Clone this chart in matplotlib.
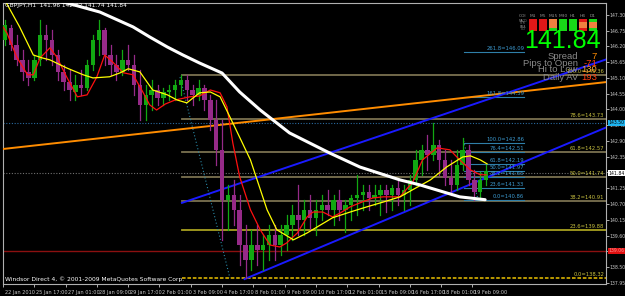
import matplotlib
matplotlib.use("Agg")
import matplotlib.pyplot as plt
from matplotlib.patches import Rectangle
import matplotlib.transforms as mtrans

plt.rcParams["font.family"] = ["Liberation Sans Narrow", "DejaVu Sans"]

# ---------------- data ----------------
# composite candles (6 H1 bars each)
c_open = [146.42,146.84,146.25,145.73,145.31,145.10,145.73,146.60,146.42,145.90,
          145.31,144.96,144.61,144.85,144.75,145.55,146.42,146.77,145.90,145.55,
          145.31,145.73,145.55,144.85,144.16,144.50,144.68,144.40,144.61,144.68,
          144.85,145.03,144.68,144.50,144.75,144.33,143.63,142.59,140.84,141.01,
          140.49,139.27,138.75,139.27,139.10,139.27,139.62,139.27,139.62,139.97,
          140.32,140.14,140.49,140.21,140.49,140.67,140.49,140.84,140.49,140.67,
          140.91,141.01,141.12,140.91,141.01,141.19,141.01,141.26,141.01,141.19,
          141.54,142.24,142.59,142.41,142.76,142.24,141.61,141.36,142.06,142.59,
          141.54,141.12,141.54]
c_high = [147.12,146.95,146.60,146.08,145.73,145.90,147.12,146.95,146.77,146.08,
          145.55,145.38,145.20,145.38,145.73,146.60,147.12,146.84,146.25,145.90,
          146.08,146.25,145.90,145.38,144.85,145.03,144.85,144.75,144.85,145.03,
          145.20,145.20,144.85,145.03,144.85,144.50,144.33,143.63,141.36,141.54,
          141.01,139.97,139.79,139.97,139.62,139.97,139.97,139.97,140.32,140.67,
          141.36,140.84,141.01,140.84,141.01,141.19,141.01,141.19,140.84,141.01,
          141.71,141.36,141.36,141.36,141.36,141.36,141.36,141.54,141.36,141.71,
          142.59,142.76,143.11,143.53,142.93,142.59,142.24,142.59,143.00,142.76,
          141.89,141.82,142.06]
c_low = [146.25,146.08,145.55,145.03,144.85,145.03,145.55,145.73,145.55,145.03,
         144.68,144.33,144.33,144.50,144.68,145.38,145.90,145.55,145.20,145.03,
         145.20,145.38,144.50,143.63,143.63,143.98,144.16,144.16,144.33,144.33,
         144.50,144.33,144.16,144.33,143.98,143.28,142.06,139.44,139.79,139.97,
         138.57,138.12,138.40,138.57,138.40,138.75,138.75,138.92,139.10,139.44,
         139.62,139.62,139.79,139.62,140.14,140.32,139.97,140.14,139.72,140.14,
         140.32,140.49,140.49,140.67,140.32,140.42,140.49,140.67,140.49,140.67,
         141.36,141.71,141.89,142.24,141.71,141.36,141.01,141.19,141.89,141.36,
         140.84,140.94,141.36]
c_close = [146.95,146.25,145.73,145.31,145.10,145.73,146.60,146.42,145.90,145.31,
           144.96,144.68,144.85,144.75,145.55,146.42,146.77,145.90,145.55,145.31,
           145.73,145.55,144.85,144.16,144.50,144.68,144.40,144.61,144.68,144.85,
           145.03,144.68,144.50,144.75,144.33,143.63,142.59,140.84,141.01,140.49,
           139.27,138.75,139.27,139.10,139.27,139.62,139.27,139.62,139.97,140.32,
           140.14,140.49,140.21,140.49,140.67,140.49,140.84,140.49,140.67,140.91,
           141.01,141.12,140.91,141.01,141.19,141.01,141.26,141.01,141.19,141.54,
           142.24,142.59,142.41,142.76,142.24,141.61,141.36,142.06,142.59,141.54,
           141.12,141.54,141.84]

# moving averages: (bar index, price)
ma_white_x = [28, 45, 65, 99, 133, 150, 168, 184, 201, 224, 242, 263, 293, 334, 365, 406, 426, 467, 493]
ma_white_y = [148.17, 147.82, 147.72, 147.40, 146.88, 146.53, 146.18, 145.90, 145.62, 145.27,
              144.61, 143.98, 143.18, 142.48, 141.99, 141.54, 141.37, 140.95, 140.85]
ma_yellow_x = [0, 17, 31, 40, 48, 65, 82, 92, 109, 120, 128, 140, 153, 168, 178, 188, 201, 212,
               222, 235, 253, 270, 280, 297, 311, 337, 355, 372, 389, 406, 419, 437, 454, 470, 478, 488, 495]
ma_yellow_y = [147.93, 146.88, 145.90, 145.80, 145.73, 145.45, 145.21, 145.10, 145.14, 145.28,
               145.42, 145.31, 144.68, 144.51, 144.33, 144.23, 144.58, 144.61, 144.44, 143.53,
               142.24, 140.50, 139.80, 139.45, 139.69, 140.22, 140.42, 140.60, 140.77, 140.95,
               141.20, 141.54, 142.00, 142.34, 142.38, 142.24, 142.10]
ma_red_x = [0, 4, 14, 25, 31, 38, 48, 55, 65, 76, 86, 96, 104, 112, 123, 133, 143, 150, 157, 166,
            176, 191, 201, 212, 222, 229, 235, 242, 253, 263, 273, 283, 290, 301, 311, 317, 327,
            337, 345, 355, 365, 378, 389, 406, 419, 429, 444, 457, 467, 478, 488, 494]
ma_red_y = [146.88, 146.67, 145.83, 145.21, 145.21, 145.80, 146.15, 145.83, 145.14, 144.44,
            144.51, 145.14, 145.90, 145.66, 145.28, 145.21, 144.61, 144.16, 143.98, 144.19,
            144.33, 144.44, 144.47, 144.68, 144.58, 144.09, 142.83, 141.65, 140.50, 139.80,
            139.27, 139.20, 139.34, 139.69, 140.25, 140.42, 140.42, 140.25, 140.39, 140.60,
            140.74, 140.91, 140.95, 140.95, 141.47, 142.24, 142.66, 142.59, 142.24, 141.89,
            141.72, 141.72]

# trend lines: ((bar0, price0), (bar1, price1))
orange_line = ((0, 142.62), (618, 144.96))
blue_upper = ((183, 140.74), (618, 145.76))
blue_lower = ((247, 138.08), (618, 143.39))
fib_diag = ((181, 145.13), (232, 138.12))
small_fib_diag = ((471, 142.90), (486, 140.82))

# big Fibonacci levels (price of drawn line, label)
big_fib_prices = [145.20, 143.67, 142.52, 141.64, 140.81, 139.79, 138.12]
big_fib_labels = ["100.0=145.36", "78.6=143.73", "61.8=142.57", "50.0=141.74",
                  "38.2=140.91", "23.6=139.88", "0.0=138.32"]
big_fib_start = 183

small_fib_prices = [146.02, 144.44, 142.83, 142.52, 142.10, 141.86, 141.64, 141.26, 140.84]
small_fib_labels = ["261.8=146.09", "161.8=144.59", "100.0=142.86", "76.4=142.51", "61.8=142.19",
                    "50.0=141.97", "38.2=141.65", "23.6=141.33", "0.0=140.86"]
small_fib_start = 471
small_fib_end = 533

bid_price = 141.78
blue_dot_price = 143.53
red_line_price = 139.06

y_ticks = [147.30, 146.75, 146.20, 145.65, 145.10, 144.55, 144.00, 143.45, 142.90,
           142.35, 141.80, 141.25, 140.70, 140.15, 139.60, 139.05, 138.50, 137.95]
x_tick_bars = [0, 32, 64, 96, 128, 160, 192, 224, 256, 288, 320, 352, 384, 416, 448, 480]
x_tick_labels = ["22 Jan 2010", "25 Jan 17:00", "27 Jan 01:00", "28 Jan 09:00", "29 Jan 17:00",
                 "2 Feb 01:00", "3 Feb 09:00", "4 Feb 17:00", "8 Feb 01:00", "9 Feb 09:00",
                 "10 Feb 17:00", "12 Feb 01:00", "15 Feb 09:00", "16 Feb 17:00", "18 Feb 01:00",
                 "19 Feb 09:00"]

panel_cols = ["M1", "M5", "M15", "M30", "H1", "H4", "D1"]
panel_rows = ["MACD", "STR", "EMA", "CCI"]
panel_state = [["r", "r", "o", "g", "g", "r", "g"],
               ["r", "r", "o", "g", "g", "o", "o"],
               ["r", "r", "o", "g", "g", "o", "o"],
               ["r", "r", "g", "g", "g", "r", "g"]]
info_labels = ["Spread", "Pips to Open", "Hi to Low", "Daily AV"]
info_values = ["7", "-71", "130", "193"]

# ---------------- figure ----------------
W, H = 625, 296
fig = plt.figure(figsize=(W / 100, H / 100), dpi=100, facecolor="black")
ax = fig.add_axes([3 / W, 12 / H, 603 / W, 281 / H], facecolor="black")
ax.set_xlim(0, 616.6)
ax.set_ylim(137.908, 147.715)


def fpx(x, y):
    return x / W, 1 - y / H


# horizontal full-width lines
ax.axhline(red_line_price, color="#8b1010", lw=1.0, zorder=1)
ax.axhline(blue_dot_price, color="#2a6aa0", lw=0.8, ls=(0, (1, 1.5)), zorder=1)
ax.axhline(bid_price, color="#707070", lw=0.8, ls=(0, (1, 1.5)), zorder=1)

# big fib lines
bf_colors = ["#7a7250", "#7a7250", "#7a7250", "#7a7250", "#7a7250", "#a8a020", "#c8a400"]
bf_styles = ["-", "-", "-", "-", "-", "-", (0, (2, 1))]
for p, lab, c, s in zip(big_fib_prices, big_fib_labels, bf_colors, bf_styles):
    ax.plot([big_fib_start, 616.6], [p, p], color=c, lw=1.3, ls=s, zorder=1)
    ax.text(615, p + 0.04, lab, color="#c8c040", fontsize=3.8, ha="right", va="bottom", zorder=6)

# small fib lines
for p, lab in zip(small_fib_prices, small_fib_labels):
    ax.plot([small_fib_start, small_fib_end], [p, p], color="#2f7fa8", lw=0.8, zorder=2)
    ax.text(small_fib_end, p + 0.03, lab, color="#3c9ad0", fontsize=3.8, ha="right", va="bottom", zorder=6)

# trend lines
for (a, b), c, lw, ls in [(orange_line, "#ff8c00", 1.4, "-"), (blue_upper, "#1a1aff", 1.4, "-"),
                          (blue_lower, "#1a1aff", 1.4, "-"), (fib_diag, "#2a8aa8", 0.8, (0, (1, 2))),
                          (small_fib_diag, "#2a8aa8", 0.8, (0, (1, 2)))]:
    ax.plot([a[0], b[0]], [a[1], b[1]], color=c, lw=lw, ls=ls, zorder=3)

# candles
for i, (o, h, l, c) in enumerate(zip(c_open, c_high, c_low, c_close)):
    xb = 6 * i + 2
    col = "#12a812" if c >= o else "#962a88"
    ax.plot([xb, xb], [l, h], color=col, lw=0.9, zorder=4)
    ax.add_patch(Rectangle((xb - 2.3, min(o, c)), 4.6, max(abs(c - o), 0.02),
                           facecolor=col, edgecolor="none", zorder=4))

# moving averages
ax.plot(ma_red_x, ma_red_y, color="#ff1010", lw=0.9, zorder=5)
ax.plot(ma_yellow_x, ma_yellow_y, color="#ffff00", lw=0.9, zorder=5)
ax.plot(ma_white_x, ma_white_y, color="white", lw=2.2, zorder=5, solid_capstyle="round")

# axes styling
for s in ["top", "left", "bottom", "right"]:
    ax.spines[s].set_color("#b0b0b0")
    ax.spines[s].set_linewidth(0.8)
ax.yaxis.tick_right()
ax.set_yticks(y_ticks)
ax.set_yticklabels(["%.2f" % v for v in y_ticks])
ax.tick_params(axis="y", colors="#c8c8c8", labelsize=3.3, length=1.8, width=0.6, pad=0.6)
ax.set_xticks(x_tick_bars)
ax.set_xticklabels(x_tick_labels, ha="left")
ax.tick_params(axis="x", colors="#c8c8c8", labelsize=3.6, length=2.5, width=0.6, pad=1.5)
for lbl in ax.get_xticklabels():
    lbl.set_transform(lbl.get_transform() + mtrans.ScaledTranslation(1.5 / 72, 0, fig.dpi_scale_trans))

# price boxes on axis
blend = mtrans.blended_transform_factory(ax.transAxes, ax.transData)
box_kw = dict(transform=blend, fontsize=3.3, va="center", ha="left", zorder=10, clip_on=False)
ax.text(1.004, blue_dot_price, "143.50", color="#000000",
        bbox=dict(boxstyle="square,pad=0.15", fc="#1eb4f0", ec="none"), **box_kw)
ax.text(1.004, bid_price, "141.84", color="#000000",
        bbox=dict(boxstyle="square,pad=0.15", fc="white", ec="none"), **box_kw)
ax.text(1.004, red_line_price, "139.06", color="#ff9090",
        bbox=dict(boxstyle="square,pad=0.15", fc="#e01010", ec="none"), **box_kw)

# header / footer texts
fig.text(*fpx(5, 5), "GBPJPY,H1  141.96 142.02 141.74 141.84", color="white", fontsize=4.2, va="center", ha="left")
fig.text(*fpx(5, 279), "Windsor Direct 4, \u00a9 2001-2009 MetaQuotes Software Corp.", color="white",
         fontsize=4.3, va="center", ha="left")

# signal panel
fig.text(*fpx(523, 16), "COI", color="#909090", fontsize=3.2, ha="center", va="center")
state_colors = {"r": "#e01818", "o": "#f08040", "g": "#18d818"}
for j, name in enumerate(panel_cols):
    cx = 533 + 10 * j
    fig.text(*fpx(cx, 16), name, color="#909090", fontsize=3.2, ha="center", va="center")
    for r in range(len(panel_rows)):
        ry = 19.5 + 3 * r
        x0, y0 = fpx(cx - 4, ry + 2)
        fig.add_artist(Rectangle((x0, y0), 8 / W, 2 / H, transform=fig.transFigure,
                                 facecolor=state_colors[panel_state[r][j]], edgecolor="none"))
for r, name in enumerate(panel_rows):
    fig.text(*fpx(523, 20.5 + 3 * r), name, color="#808080", fontsize=2.2, ha="center", va="center")

big_font = ["Liberation Sans", "DejaVu Sans"]
fig.text(*fpx(562, 41), "141.84", color="#00ff00", fontsize=18, ha="center", va="center", family=big_font)
info_colors = ["#ff8c00", "#ff4010", "#ffa030", "#ff4010"]
for k, (lab, val) in enumerate(zip(info_labels, info_values)):
    yy = 56 + 7 * k
    fig.text(*fpx(578, yy), lab, color="#8a8a8a", fontsize=6.8, ha="right", va="center", family=big_font)
    fig.text(*fpx(597, yy), val, color=info_colors[k], fontsize=6.8, ha="right", va="center", family=big_font)

fig.savefig("out.png", dpi=100, facecolor="black")
